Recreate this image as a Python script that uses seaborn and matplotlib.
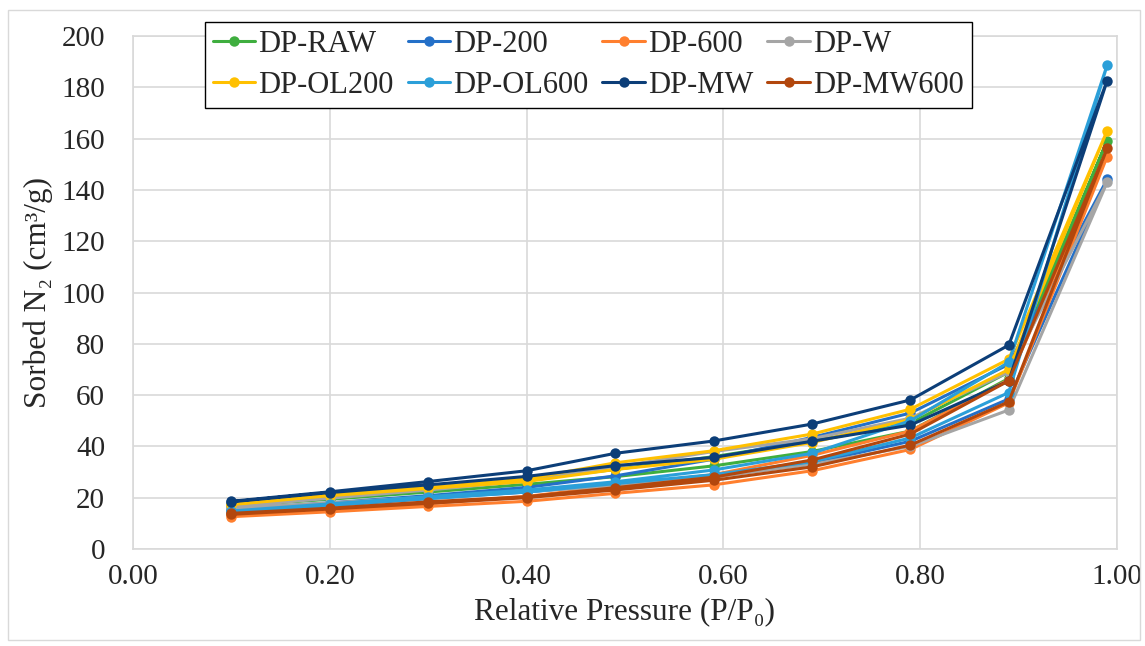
"""N2 sorption isotherms of the DP samples"""

import numpy as np
import pandas as pd
import matplotlib
matplotlib.use('Agg')
import matplotlib.pyplot as plt
import seaborn as sns

# relative pressure steps: adsorption up to 0.99, desorption back down
pressure_ads = [0.10, 0.20, 0.30, 0.40, 0.49, 0.59, 0.69, 0.79, 0.89, 0.99]
pressure_des = [0.89, 0.79, 0.69, 0.59, 0.49, 0.40, 0.30, 0.20, 0.10]

samples = ['DP-RAW', 'DP-200', 'DP-600', 'DP-W',
           'DP-OL200', 'DP-OL600', 'DP-MW', 'DP-MW600']

raw_ads = [16.8, 19.4, 22.2, 25.2, 28.2, 32.4, 38.0, 46.0, 66.5, 159.2]
raw_des = [69.0, 49.0, 42.0, 36.0, 31.0, 27.0, 23.5, 20.3, 17.2]

dp200_ads = [15.2, 17.3, 19.8, 22.2, 25.2, 28.8, 33.5, 42.0, 58.5, 144.1]
dp200_des = [72.0, 53.0, 43.5, 35.0, 28.5, 24.0, 20.8, 18.0, 15.5]

dp600_ads = [12.6, 14.5, 16.6, 18.6, 21.7, 25.0, 30.5, 38.8, 57.0, 153.0]
dp600_des = [66.0, 46.0, 36.5, 29.0, 24.5, 20.5, 17.8, 15.3, 13.2]

w_ads = [15.8, 18.0, 20.2, 22.5, 24.5, 28.0, 33.0, 40.0, 54.2, 143.0]
w_des = [69.0, 51.0, 43.0, 38.0, 32.0, 26.5, 23.0, 19.8, 16.5]

ol200_ads = [17.3, 20.8, 23.6, 26.3, 31.0, 35.0, 41.5, 50.5, 70.0, 163.1]
ol200_des = [74.0, 54.5, 44.8, 38.3, 33.6, 27.3, 24.0, 21.2, 17.5]

ol600_ads = [14.5, 16.8, 19.6, 22.2, 25.5, 29.0, 34.0, 43.3, 61.0, 188.7]
ol600_des = [72.8, 50.0, 37.3, 30.8, 26.2, 23.0, 20.4, 17.6, 14.8]

mw_ads = [18.4, 22.0, 25.0, 28.3, 32.5, 35.7, 42.0, 48.3, 65.5, 182.6]
mw_des = [79.5, 58.1, 48.7, 42.1, 37.3, 30.5, 26.3, 22.3, 18.6]

mw600_ads = [13.5, 15.6, 17.8, 20.0, 23.0, 26.8, 32.0, 40.5, 57.4, 156.2]
mw600_des = [65.6, 44.8, 34.7, 28.0, 23.9, 20.4, 18.4, 15.9, 13.9]

colors = ['#3fae3f', '#2470c8', '#ff7f2e', '#a5a5a5',
          '#ffc000', '#2b9fd9', '#0c3e78', '#b2470d']


def build_frame():
    '''long-form table, each sample as one loop (ads then des)'''
    branches = [(raw_ads, raw_des), (dp200_ads, dp200_des), (dp600_ads, dp600_des),
                (w_ads, w_des), (ol200_ads, ol200_des), (ol600_ads, ol600_des),
                (mw_ads, mw_des), (mw600_ads, mw600_des)]
    rows = []
    for name, (ads, des) in zip(samples, branches):
        for p, v in zip(pressure_ads + pressure_des, ads + des):
            rows.append({'p': p, 'v': v, 'sample': name})
    return pd.DataFrame(rows)


df = build_frame()

sns.set_style('white')
plt.rcParams['font.family'] = ['Liberation Serif', 'DejaVu Serif']

fig = plt.figure(figsize=(11.45, 6.46), dpi=100)
ax = fig.add_axes([133/1145, 1 - 549/646, (1117-133)/1145, (549-36)/646])

sns.lineplot(data=df, x='p', y='v', hue='sample', hue_order=samples,
             palette=colors, sort=False, estimator=None, marker='o',
             markersize=7.5, markeredgewidth=0, linewidth=2.2, ax=ax)

ax.set_xlim(0, 1.0)
ax.set_ylim(0, 200)
ax.set_xticks(np.arange(0, 1.01, 0.2))
ax.set_yticks(np.arange(0, 201, 20))
ax.set_xticklabels(['%.2f' % t for t in np.arange(0, 1.01, 0.2)])
ax.grid(True, color='#d9d9d9', linewidth=1.2)
for s in ax.spines.values():
    s.set_color('#d9d9d9')
    s.set_linewidth(1.2)
ax.tick_params(axis='y', length=0, pad=20, labelsize=21)
ax.tick_params(axis='x', length=0, pad=11, labelsize=21)
ax.set_xlabel('Relative Pressure (P/P\u2080)', fontsize=22.5, labelpad=5)
ax.set_ylabel('Sorbed N\u2082 (cm\u00b3/g)', fontsize=22.5, labelpad=6)

# legend fills row by row in the reference; matplotlib fills columns
handles, labels = ax.get_legend_handles_labels()
order = [0, 4, 1, 5, 2, 6, 3, 7]
ax.legend([handles[i] for i in order], [labels[i] for i in order],
          ncol=4, loc='upper left',
          bbox_to_anchor=(205/1145, 1 - 22/646), bbox_transform=fig.transFigure,
          fontsize=22, frameon=True, fancybox=False, edgecolor='black',
          framealpha=1, borderpad=0.25, labelspacing=0.4, handlelength=1.4,
          handletextpad=0.1, columnspacing=0.45, borderaxespad=0)
ax.get_legend().get_frame().set_linewidth(1.0)

# light outer chart border
fig.patches.append(plt.Rectangle((8/1145, 6/646), 1132/1145, 630/646,
                                 transform=fig.transFigure, fill=False,
                                 edgecolor='#d9d9d9', linewidth=1))

fig.savefig('out.png', dpi=100)
